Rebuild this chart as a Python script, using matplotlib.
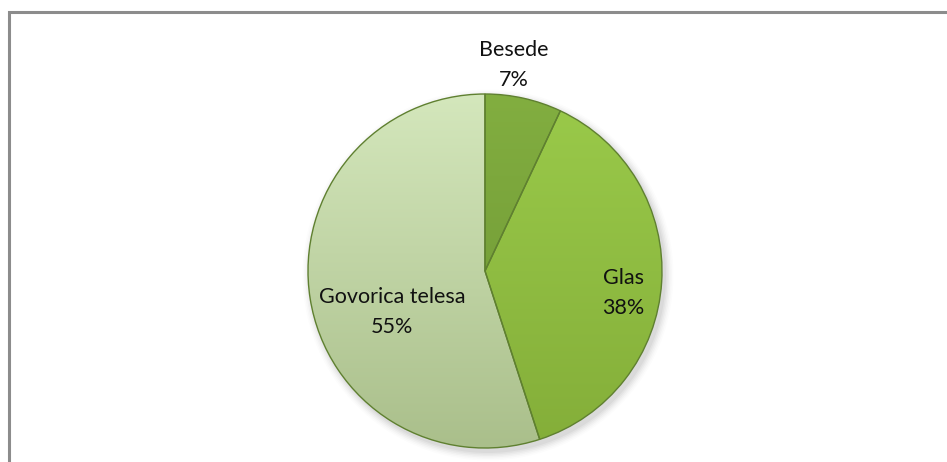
import numpy as np
import matplotlib
matplotlib.use("Agg")
import matplotlib.pyplot as plt
from matplotlib.colors import LinearSegmentedColormap
from matplotlib.patches import Rectangle, Circle

categories = ["Besede", "Glas", "Govorica telesa"]
values = [7, 38, 55]
pct_labels = ["7%", "38%", "55%"]

# gradient colours (top, bottom) per slice
top_colors = ["#82AE40", "#9ACA4A", "#D4E7BC"]
bot_colors = ["#6C9433", "#84AE39", "#AABF8B"]
edge_color = "#5F8030"

W, H = 947, 462
fig = plt.figure(figsize=(W / 100, H / 100), dpi=100)
ax = fig.add_axes([0, 0, 1, 1])

# frame (only top and left visible)
ax.add_patch(Rectangle((8.5, -20), W + 40, H - 12 + 20, fill=False,
                       edgecolor="#8C8C8C", linewidth=2.2, zorder=1))

cx, cy, r = 485, 462 - 271, 177

# soft shadow
for i, a in enumerate(np.linspace(0.06, 0.02, 6)):
    ax.add_patch(Circle((cx + 3, cy - 4), r + 1 + i * 1.5, color="#000000",
                        alpha=a * 0.6, lw=0, zorder=2))

wedges, _ = ax.pie(values, startangle=90, counterclock=False, center=(cx, cy),
                   radius=r, colors=["none"] * 3,
                   wedgeprops=dict(edgecolor=edge_color, linewidth=1.0),
                   frame=True)
ax.set_xlim(0, W)
ax.set_ylim(0, H)
ax.set_aspect("equal")
ax.axis("off")

grad = np.linspace(0, 1, 256).reshape(-1, 1)
for w, tc, bc in zip(wedges, top_colors, bot_colors):
    cmap = LinearSegmentedColormap.from_list("g", [tc, bc])
    im = ax.imshow(grad, cmap=cmap, extent=(cx - r, cx + r, cy - r, cy + r),
                   origin="upper", aspect="auto", zorder=3)
    im.set_clip_path(w)
    w.set_zorder(4)

# labels
font = dict(family="Lato", fontsize=15.5, color="#111111", ha="center",
            va="center", zorder=6)
label_pos = [(514, 50), (623, 278), (392, 297)]
for name, pct, (lx, ly) in zip(categories, pct_labels, label_pos):
    ax.text(lx, H - ly, name, **font)
    ax.text(lx, H - ly - 30, pct, **font)

fig.savefig("out.png", dpi=100)
